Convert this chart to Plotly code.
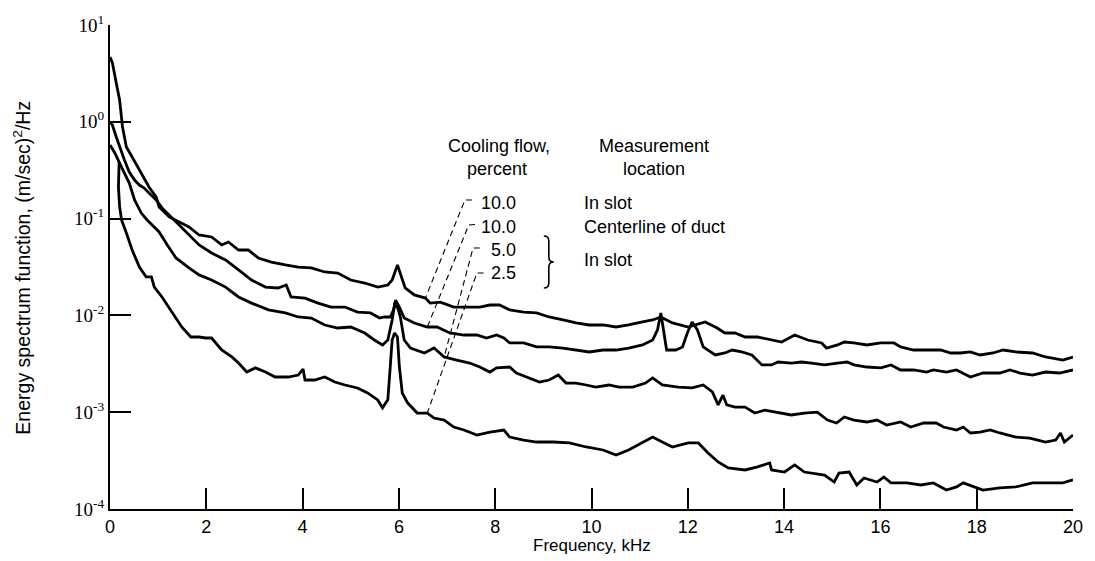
import numpy as np
import plotly.graph_objects as go

# Energy spectra, frequency in kHz, spectrum in (m/sec)^2/Hz

# 10.0 percent cooling flow, measured in slot
freq_slot_10 = [0, 0.05, 0.13, 0.20, 0.26, 0.34, 0.46, 0.61, 0.81, 0.96,
                1.02, 1.23, 1.43, 1.64, 1.85, 2.11, 2.32, 2.46, 2.67, 2.87,
                3.08, 3.35, 3.64, 3.91, 4.18, 4.46, 4.73, 5.00, 5.29, 5.56,
                5.77, 5.86, 5.97, 6.05, 6.13, 6.32, 6.55, 6.65, 6.86, 7.14,
                7.41, 7.68, 7.89, 8.09, 8.30, 8.59, 8.86, 9.12, 9.41, 9.68,
                9.95, 10.24, 10.51, 10.77, 11.06, 11.27, 11.44, 11.68, 12.01, 12.36,
                12.61, 12.77, 12.98, 13.19, 13.45, 13.74, 13.95, 14.22, 14.49, 14.78,
                14.88, 15.11, 15.25, 15.45, 15.72, 16.01, 16.28, 16.42, 16.69, 16.96,
                17.25, 17.46, 17.66, 17.87, 18.07, 18.34, 18.55, 18.81, 19.16, 19.43,
                19.79, 20.0]
psd_slot_10 = [4.67, 4.05, 2.52, 1.68, 0.884, 0.549, 0.433, 0.318, 0.212, 0.167,
               0.132, 0.104, 0.0922, 0.0819, 0.0677, 0.0646, 0.0534, 0.0573, 0.0474, 0.0474,
               0.0392, 0.0356, 0.0332, 0.0316, 0.0309, 0.0281, 0.0274, 0.0232, 0.0216, 0.0196,
               0.0206, 0.0232, 0.0332, 0.0250, 0.0192, 0.0163, 0.0151, 0.0134, 0.0137, 0.0122,
               0.0122, 0.0122, 0.0128, 0.0128, 0.0114, 0.0108, 0.0106, 0.00963, 0.00897, 0.00835,
               0.00796, 0.00796, 0.00759, 0.00796, 0.00855, 0.00897, 0.00963, 0.00835, 0.00759, 0.00855,
               0.00741, 0.00658, 0.00658, 0.00598, 0.00598, 0.00557, 0.00531, 0.00627, 0.00557, 0.00519,
               0.00460, 0.00495, 0.00531, 0.00519, 0.00495, 0.00519, 0.00519, 0.00472, 0.00439, 0.00439,
               0.00439, 0.00409, 0.00409, 0.00419, 0.00390, 0.00409, 0.00439, 0.00419, 0.00409, 0.00372,
               0.00346, 0.00372]

# 10.0 percent cooling flow, measured on the duct centerline
freq_center_10 = [0, 0.05, 0.13, 0.20, 0.30, 0.40, 0.51, 0.61, 0.71, 0.81,
                  0.96, 1.08, 1.23, 1.43, 1.64, 1.85, 2.11, 2.40, 2.67, 2.94,
                  3.23, 3.49, 3.66, 3.76, 4.05, 4.32, 4.59, 4.88, 5.14, 5.41,
                  5.60, 5.70, 5.82, 5.89, 5.93, 6.01, 6.11, 6.32, 6.59, 6.79,
                  7.06, 7.35, 7.62, 7.82, 8.03, 8.18, 8.30, 8.59, 8.86, 9.12,
                  9.41, 9.68, 9.95, 10.24, 10.51, 10.77, 11.06, 11.27, 11.37, 11.44,
                  11.50, 11.56, 11.75, 11.89, 11.99, 12.09, 12.20, 12.32, 12.57, 12.77,
                  12.92, 13.12, 13.33, 13.54, 13.74, 13.87, 14.15, 14.36, 14.57, 14.84,
                  15.11, 15.31, 15.45, 15.72, 16.01, 16.22, 16.42, 16.69, 16.96, 17.10,
                  17.37, 17.58, 17.87, 18.13, 18.48, 18.69, 18.90, 19.16, 19.43, 19.72,
                  20.0]
psd_center_10 = [1.0, 0.927, 0.697, 0.549, 0.403, 0.303, 0.250, 0.222, 0.207, 0.184,
                 0.156, 0.129, 0.109, 0.0859, 0.0677, 0.0534, 0.0441, 0.0374, 0.0295, 0.0232,
                 0.0196, 0.0192, 0.0206, 0.0155, 0.0151, 0.0134, 0.0122, 0.0122, 0.0108, 0.0106,
                 0.00940, 0.00963, 0.00963, 0.0114, 0.0144, 0.0122, 0.00940, 0.00835, 0.00759, 0.00759,
                 0.00658, 0.00627, 0.00627, 0.00584, 0.00627, 0.00584, 0.00519, 0.00519, 0.00472, 0.00472,
                 0.00460, 0.00439, 0.00419, 0.00439, 0.00439, 0.00460, 0.00495, 0.00557, 0.00707, 0.0106,
                 0.00658, 0.00439, 0.00439, 0.00472, 0.00658, 0.00855, 0.00707, 0.00472, 0.00390, 0.00409,
                 0.00439, 0.00419, 0.00390, 0.00308, 0.00308, 0.00330, 0.00322, 0.00330, 0.00322, 0.00308,
                 0.00322, 0.00330, 0.00308, 0.00293, 0.00287, 0.00308, 0.00273, 0.00273, 0.00260, 0.00273,
                 0.00260, 0.00273, 0.00231, 0.00254, 0.00254, 0.00273, 0.00254, 0.00242, 0.00260, 0.00254,
                 0.00273]

# 5.0 percent cooling flow, measured in slot
freq_slot_5 = [0, 0.10, 0.20, 0.30, 0.40, 0.51, 0.65, 0.77, 0.92, 1.02,
               1.19, 1.37, 1.64, 1.85, 2.11, 2.40, 2.67, 2.94, 3.29, 3.64,
               3.91, 4.18, 4.46, 4.73, 5.00, 5.29, 5.49, 5.66, 5.77, 5.86,
               5.91, 5.97, 6.03, 6.11, 6.24, 6.53, 6.73, 6.94, 7.20, 7.47,
               7.68, 7.89, 8.03, 8.30, 8.44, 8.65, 8.92, 9.12, 9.31, 9.47,
               9.68, 9.89, 10.09, 10.36, 10.57, 10.86, 11.12, 11.27, 11.47, 11.80,
               12.09, 12.32, 12.51, 12.63, 12.73, 12.81, 12.98, 13.19, 13.39, 13.60,
               13.87, 14.15, 14.42, 14.69, 14.90, 15.09, 15.25, 15.45, 15.72, 15.93,
               16.13, 16.42, 16.63, 16.90, 17.16, 17.31, 17.58, 17.72, 17.87, 18.07,
               18.28, 18.48, 18.81, 19.10, 19.43, 19.64, 19.74, 19.82, 20.0]
psd_slot_5 = [0.576, 0.476, 0.375, 0.296, 0.233, 0.156, 0.114, 0.0967, 0.0819, 0.0727,
              0.0534, 0.0392, 0.0309, 0.0262, 0.0232, 0.0196, 0.0155, 0.0134, 0.0114, 0.0106,
              0.00963, 0.00940, 0.00796, 0.00741, 0.00759, 0.00658, 0.00557, 0.00495, 0.00557, 0.00897,
              0.0128, 0.0122, 0.00963, 0.00557, 0.00460, 0.00409, 0.00460, 0.00372, 0.00346, 0.00322,
              0.00293, 0.00260, 0.00287, 0.00293, 0.00254, 0.00231, 0.00205, 0.00215, 0.00242, 0.00200,
              0.00200, 0.00191, 0.00182, 0.00191, 0.00182, 0.00182, 0.00200, 0.00226, 0.00191, 0.00182,
              0.00178, 0.00191, 0.00162, 0.00119, 0.00150, 0.00119, 0.00113, 0.00113, 0.00098, 0.00105,
              0.00100, 0.000936, 0.00098, 0.00100, 0.00083, 0.000773, 0.000892, 0.00083, 0.000792, 0.00083,
              0.000737, 0.000792, 0.000703, 0.000773, 0.000773, 0.000703, 0.000655, 0.000703, 0.00061, 0.000624,
              0.000655, 0.00061, 0.000554, 0.000541, 0.000492, 0.000516, 0.00061, 0.000492, 0.000581]

# 2.5 percent cooling flow, measured in slot
freq_slot_2_5 = [0.19, 0.175, 0.20, 0.24, 0.34, 0.46, 0.61, 0.75, 0.86, 0.92,
                 1.08, 1.29, 1.49, 1.68, 1.85, 1.99, 2.11, 2.32, 2.53, 2.67,
                 2.84, 3.02, 3.23, 3.43, 3.70, 3.91, 4.01, 4.05, 4.25, 4.46,
                 4.67, 4.88, 5.14, 5.35, 5.56, 5.66, 5.77, 5.82, 5.86, 5.91,
                 5.97, 6.01, 6.07, 6.18, 6.38, 6.59, 6.73, 6.94, 7.14, 7.35,
                 7.62, 7.89, 8.18, 8.30, 8.59, 8.86, 9.21, 9.54, 9.89, 10.24,
                 10.51, 10.77, 11.06, 11.27, 11.47, 11.68, 12.01, 12.22, 12.42, 12.63,
                 12.84, 13.19, 13.45, 13.70, 13.74, 14.01, 14.22, 14.42, 14.84, 15.04,
                 15.14, 15.35, 15.51, 15.66, 15.93, 16.07, 16.22, 16.55, 16.84, 17.10,
                 17.37, 17.58, 17.72, 17.93, 18.13, 18.48, 18.81, 19.16, 19.51, 19.79,
                 20.0]
psd_slot_2_5 = [0.384, 0.212, 0.132, 0.0967, 0.0710, 0.0474, 0.0316, 0.0250, 0.0250, 0.0196,
                0.0155, 0.0106, 0.00759, 0.00598, 0.00598, 0.00584, 0.00584, 0.00439, 0.00372, 0.00322,
                0.00260, 0.00287, 0.00260, 0.00231, 0.00231, 0.00242, 0.00279, 0.00215, 0.00215, 0.00231,
                0.00205, 0.00191, 0.00178, 0.00158, 0.00134, 0.00111, 0.00134, 0.00293, 0.00557, 0.00658,
                0.00598, 0.00293, 0.00158, 0.00125, 0.00098, 0.00098, 0.000871, 0.00083, 0.000703, 0.000655,
                0.000581, 0.000624, 0.000655, 0.000554, 0.000516, 0.000492, 0.000492, 0.000481, 0.000437, 0.000407,
                0.000361, 0.000407, 0.000492, 0.000554, 0.000492, 0.000437, 0.000481, 0.000481, 0.000379, 0.000306,
                0.000266, 0.000253, 0.000272, 0.000299, 0.000253, 0.000241, 0.000285, 0.000241, 0.000224, 0.000190,
                0.000235, 0.000241, 0.000177, 0.000209, 0.000190, 0.000214, 0.000186, 0.000186, 0.000177, 0.000186,
                0.000157, 0.000169, 0.000186, 0.000169, 0.000157, 0.000165, 0.000169, 0.000186, 0.000186, 0.000186,
                0.000200]

cooling_flow_labels = ["10.0", "10.0", "5.0", "2.5"]
location_labels = ["In slot", "Centerline of duct", "In slot"]
x_tick_values = list(range(0, 21, 2))
y_tick_values = [1e-4, 1e-3, 1e-2, 1e-1, 1e0, 1e1]
y_tick_labels = ["10<sup>-4</sup>", "10<sup>-3</sup>", "10<sup>-2</sup>",
                 "10<sup>-1</sup>", "10<sup>0</sup>", "10<sup>1</sup>"]

series = [
    (freq_slot_10, psd_slot_10),
    (freq_center_10, psd_center_10),
    (freq_slot_5, psd_slot_5),
    (freq_slot_2_5, psd_slot_2_5),
]
for f, v in series:
    assert len(f) == len(v)

SANS = "Liberation Sans, Arial, sans-serif"
SERIF = "Liberation Serif, Times New Roman, serif"

W, H = 1095, 561
ML, MR, MT, MB = 110, 15, 25, 52
PW, PH = W - ML - MR, H - MT - MB


def px(x):
    return (x - ML) / PW


def py(y):
    return (H - MB - y) / PH


fig = go.Figure()

for f, v in series:
    fig.add_trace(go.Scatter(x=f, y=v, mode="lines",
                             line=dict(color="black", width=2.8),
                             hoverinfo="skip", showlegend=False))

# dashed leaders from each cooling-flow label to its curve
leader_hooks = [((7.52, 0.1555), (7.37, 0.1555)),
                ((7.58, 0.0870), (7.45, 0.0859)),
                ((7.68, 0.0497), (7.54, 0.0497)),
                ((7.76, 0.0274), (7.62, 0.0274))]
leader_targets = [6.55, 6.62, 6.84, 6.59]


def point_on(f, v, target):
    i = int(np.argmin(np.abs(np.asarray(f) - target)))
    return f[i], v[i]


for (hook_r, hook_l), (f, v), tgt in zip(leader_hooks, series, leader_targets):
    ex, ey = point_on(f, v, tgt)
    fig.add_trace(go.Scatter(x=[hook_r[0], hook_l[0], ex], y=[hook_r[1], hook_l[1], ey],
                             mode="lines",
                             line=dict(color="black", width=1.1, dash="6px,4px"),
                             hoverinfo="skip", showlegend=False))

annotations = []


def text(x, y, s, size=18, xanchor="center", family=SANS, angle=0):
    annotations.append(dict(x=px(x), y=py(y), xref="paper", yref="paper", text=s,
                            showarrow=False, xanchor=xanchor, yanchor="middle",
                            textangle=angle,
                            font=dict(family=family, size=size, color="black")))


text(502, 146, "Cooling flow,")
text(500, 169, "percent")
text(658, 146, "Measurement")
text(658, 169, "location")
for lab, y in zip(cooling_flow_labels, [203, 227, 250, 273]):
    text(521, y, lab, xanchor="right")
for lab, y in zip(location_labels, [203, 227, 260]):
    text(585, y, lab, xanchor="left")

text(595, 545, "Frequency, kHz", size=17)
text(21, 268, "Energy spectrum function, (m/sec)<sup>2</sup>/Hz", size=19.5, angle=-90)

# brace grouping the 5.0 and 2.5 rows
bx = [547, 552, 552, 557, 552, 552, 547]
by = [236, 241, 257, 262, 267, 283, 288]
path = (f"M {px(bx[0])},{py(by[0])} Q {px(bx[1])},{py(by[0])} {px(bx[1])},{py(by[1])} "
        f"L {px(bx[2])},{py(by[2])} Q {px(bx[2])},{py(by[3])} {px(bx[3])},{py(by[3])} "
        f"Q {px(bx[4])},{py(by[3])} {px(bx[4])},{py(by[4])} "
        f"L {px(bx[5])},{py(by[5])} Q {px(bx[5])},{py(by[6])} {px(bx[6])},{py(by[6])}")

fig.update_layout(
    width=W, height=H,
    margin=dict(l=ML, r=MR, t=MT, b=MB),
    paper_bgcolor="white", plot_bgcolor="white",
    showlegend=False,
    annotations=annotations,
    shapes=[dict(type="path", path=path, xref="paper", yref="paper",
                 line=dict(color="black", width=1.6))],
    xaxis=dict(range=[0, 20], tickvals=x_tick_values, ticks="inside", ticklen=21,
               tickwidth=2, tickcolor="black", showline=True, linecolor="black",
               linewidth=2, showgrid=False, zeroline=False, mirror=False,
               tickfont=dict(family=SANS, size=18, color="black")),
    yaxis=dict(type="log", range=[-4, 1], tickvals=y_tick_values, ticktext=y_tick_labels,
               ticks="inside", ticklen=21, tickwidth=2, tickcolor="black",
               showline=True, linecolor="black", linewidth=2, showgrid=False,
               zeroline=False, mirror=False,
               tickfont=dict(family=SERIF, size=19, color="black")),
)

fig.write_html("out.html")
